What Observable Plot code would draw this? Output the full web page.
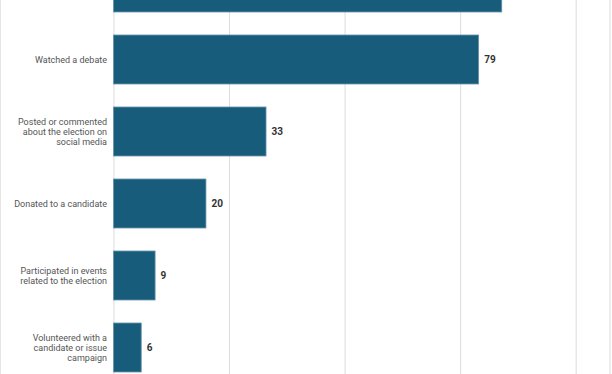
<!DOCTYPE html>
<html>
<head>
<meta charset="utf-8">
<script src="https://cdn.jsdelivr.net/npm/d3@7"></script>
<script src="https://cdn.jsdelivr.net/npm/@observablehq/plot@0.6"></script>
<style>
  html, body { margin: 0; padding: 0; background: #fff; }
  #wrap { position: relative; width: 612px; height: 374px; overflow: hidden; background: #fff; }
  #chart { position: absolute; left: 0; top: -59.5px; }
  #wrap::before { content: ""; position: absolute; left: 0; top: 0; width: 1px; height: 374px; background: #e6e6e6; z-index: 2; }
  #wrap::after { content: ""; position: absolute; left: 609px; top: 0; width: 2px; height: 374px; background: #ececec; z-index: 2; }
</style>
</head>
<body>
<div id="wrap"><div id="chart"></div></div>
<script>
const categories = [
  "Followed election news",
  "Watched a debate",
  "Posted or commented\nabout the election on\nsocial media",
  "Donated to a candidate",
  "Participated in events\nrelated to the election",
  "Volunteered with a\ncandidate or issue\ncampaign"
];
const values = [84, 79, 33, 20, 9, 6];
const xTicks = [0, 25, 50, 75, 100];

const data = categories.map((c, i) => ({category: c, value: values[i]}));

const chart = Plot.plot({
  width: 612,
  height: 472,
  marginLeft: 113.5,
  marginRight: 36.3,
  marginTop: 10,
  marginBottom: 30,
  style: {fontFamily: "Roboto, sans-serif", background: "#fff"},
  x: {domain: [0, 100], axis: null},
  y: {domain: categories, paddingInner: 0.32, paddingOuter: 0.16, axis: null},
  marks: [
    Plot.ruleX(xTicks, {stroke: "#dcdcdc", strokeWidth: 1}),
    Plot.barX(data, {
      x: "value", y: "category",
      fill: "#185c7c", stroke: "#6993aa", strokeWidth: 0.8
    }),
    Plot.text(data, {
      x: "value", y: "category", text: d => String(d.value),
      textAnchor: "start", dx: 5, fontWeight: "bold", fontSize: 10, fill: "#333"
    }),
    Plot.axisY({
      tickSize: 0, tickPadding: 7, fontSize: 9, lineHeight: 1.12,
      fill: "#555", label: null
    })
  ]
});
document.getElementById("chart").appendChild(chart);
</script>
</body>
</html>
